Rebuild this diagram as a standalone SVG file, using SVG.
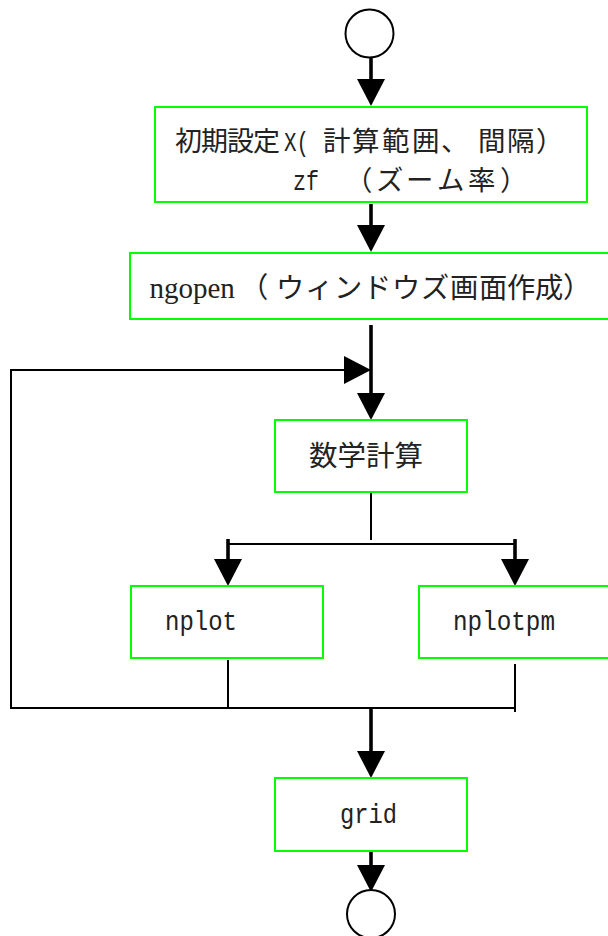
<svg xmlns="http://www.w3.org/2000/svg" width="608" height="936" viewBox="0 0 608 936">
<style>
.box{fill:#ffffff;stroke:#00ff00;stroke-width:2}
.term{fill:#ffffff;stroke:#000000;stroke-width:2}
.thick{stroke:#000000;stroke-width:3.6;fill:none}
.thin{stroke:#000000;stroke-width:2;fill:none}
.jp{font-family:"Noto Sans CJK JP","Noto Sans CJK SC",sans-serif;fill:#222222}
.ser{font-family:"Liberation Serif","Noto Sans CJK JP",serif;fill:#222222}
.mono{font-family:"Liberation Mono","Noto Sans CJK JP",monospace;fill:#222222}
</style>
<defs>
<marker id="ah" markerUnits="userSpaceOnUse" markerWidth="28" markerHeight="28" refX="0" refY="14" orient="auto" overflow="visible">
<path d="M0,0 L27,14 L0,28 Z" fill="#000000"/>
</marker>
</defs>
<rect x="0" y="0" width="608" height="936" fill="#ffffff"/>
<g id="connectors">
<line class="thick" x1="371" y1="57" x2="371" y2="79" marker-end="url(#ah)"/>
<line class="thick" x1="371" y1="204" x2="371" y2="225" marker-end="url(#ah)"/>
<line class="thick" x1="371" y1="325" x2="371" y2="393" marker-end="url(#ah)"/>
<polyline class="thin" points="11,708 11,370 344,370" marker-end="url(#ah)"/>
<line class="thin" x1="371" y1="493" x2="371" y2="540"/>
<line class="thin" x1="227" y1="544" x2="516" y2="544"/>
<line class="thick" x1="228" y1="539" x2="228" y2="559" marker-end="url(#ah)"/>
<line class="thick" x1="515" y1="539" x2="515" y2="559" marker-end="url(#ah)"/>
<line class="thin" x1="228" y1="660" x2="228" y2="708"/>
<line class="thin" x1="515" y1="664" x2="515" y2="712"/>
<line class="thin" x1="10" y1="708" x2="516" y2="708"/>
<line class="thick" x1="371" y1="708" x2="371" y2="751" marker-end="url(#ah)"/>
<line class="thick" x1="371" y1="851" x2="371" y2="865" marker-end="url(#ah)"/>
</g>
<g id="start">
<circle class="term" cx="369.5" cy="33.5" r="24"/>
</g>
<g id="init">
<rect class="box" x="155" y="107" width="432" height="95"/>
<text class="jp" x="175 201 227 253" y="151" font-size="27">初期設定</text>
<text class="mono" x="284" y="151" font-size="27" textLength="25" lengthAdjust="spacingAndGlyphs">X(</text>
<text class="jp" x="323 352 382 412 441 478 507 536" y="151" font-size="27.5">計算範囲、間隔）</text>
<text class="mono" x="293" y="190" font-size="27" textLength="26" lengthAdjust="spacingAndGlyphs">zf</text>
<text class="jp" x="345 376 406 437 468 500" y="190" font-size="27.4">（ズーム率）</text>
</g>
<g id="ngopen">
<rect class="box" x="130" y="253" width="490" height="66"/>
<text class="ser" x="149.5" y="298" font-size="29">ngopen</text>
<text class="jp" x="240 276 305 334 363 392 421 450 479 507 535 563" y="298" font-size="28.3">（ウィンドウズ画面作成）</text>
</g>
<g id="calc">
<rect class="box" x="275" y="420" width="192" height="72"/>
<text class="jp" x="309" y="466" font-size="28.5">数学計算</text>
</g>
<g id="nplot">
<rect class="box" x="131" y="586" width="192" height="72"/>
<text class="mono" x="165" y="630" font-size="27" textLength="72" lengthAdjust="spacingAndGlyphs">nplot</text>
</g>
<g id="nplotpm">
<rect class="box" x="419" y="586" width="200" height="72"/>
<text class="mono" x="453" y="630" font-size="27" textLength="102" lengthAdjust="spacingAndGlyphs">nplotpm</text>
</g>
<g id="grid">
<rect class="box" x="275" y="778" width="192" height="73"/>
<text class="mono" x="340" y="823" font-size="27" textLength="57" lengthAdjust="spacingAndGlyphs">grid</text>
</g>
<g id="end">
<circle class="term" cx="371" cy="914" r="24"/>
</g>
</svg>
